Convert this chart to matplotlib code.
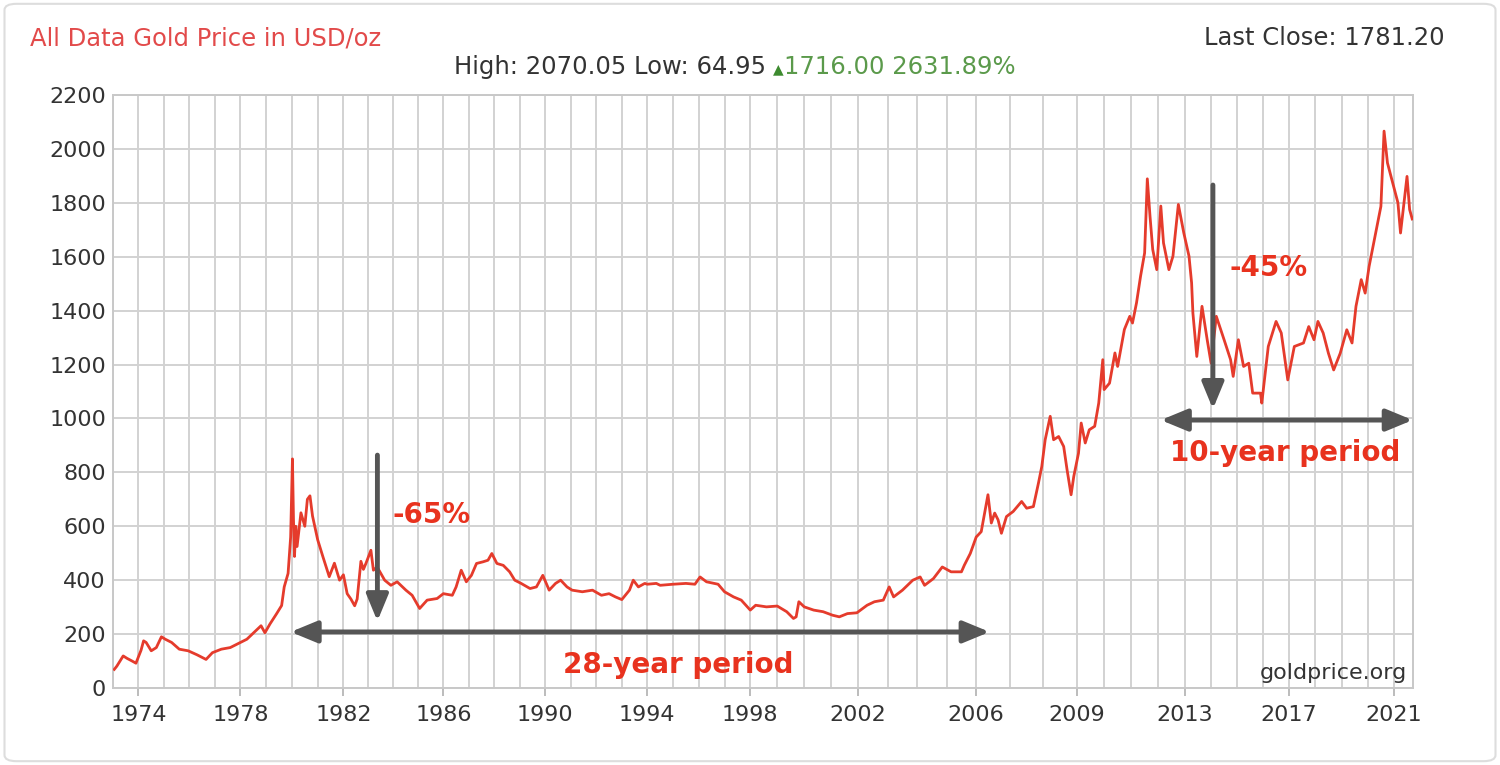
import numpy as np
import matplotlib.pyplot as plt
from matplotlib.patches import FancyBboxPatch

# gold price (USD/oz)
years = [1973.05, 1973.15, 1973.4, 1973.55, 1973.75, 1973.9, 1974.1, 1974.2, 1974.3, 1974.5,
         1974.7, 1974.9, 1975.05, 1975.3, 1975.6, 1975.95, 1976.3, 1976.65, 1976.9, 1977.25,
         1977.6, 1978.0, 1978.25, 1978.6, 1978.8, 1978.95, 1979.15, 1979.4, 1979.6, 1979.7,
         1979.85, 1979.95, 1980.02, 1980.06, 1980.1, 1980.15, 1980.2, 1980.35, 1980.5, 1980.6,
         1980.7, 1980.8, 1981.0, 1981.2, 1981.45, 1981.65, 1981.85, 1982.0, 1982.15, 1982.3,
         1982.45, 1982.55, 1982.7, 1982.8, 1982.9, 1983.1, 1983.2, 1983.35, 1983.65, 1983.9,
         1984.15, 1984.5, 1984.75, 1985.05, 1985.35, 1985.75, 1986.0, 1986.35, 1986.5, 1986.7,
         1986.9, 1987.1, 1987.3, 1987.55, 1987.75, 1987.9, 1988.1, 1988.35, 1988.6, 1988.8,
         1989.05, 1989.4, 1989.65, 1989.9, 1990.15, 1990.4, 1990.6, 1990.85, 1991.05, 1991.45,
         1991.85, 1992.2, 1992.5, 1992.75, 1993.0, 1993.3, 1993.45, 1993.65, 1993.9, 1994.0,
         1994.35, 1994.5, 1995.0, 1995.5, 1995.85, 1996.05, 1996.3, 1996.75, 1997.0, 1997.35,
         1997.65, 1998.0, 1998.2, 1998.6, 1999.0, 1999.35, 1999.6, 1999.7, 1999.8, 2000.0,
         2000.35, 2000.7, 2001.05, 2001.3, 2001.6, 2001.95, 2002.3, 2002.55, 2002.85, 2003.05,
         2003.2, 2003.5, 2003.85, 2004.1, 2004.25, 2004.55, 2004.85, 2005.15, 2005.5, 2005.6,
         2005.8, 2006.0, 2006.15, 2006.35, 2006.45, 2006.55, 2006.65, 2006.75, 2006.9, 2007.1,
         2007.35, 2007.5, 2007.7, 2007.85, 2007.95, 2008.05, 2008.2, 2008.3, 2008.45, 2008.6,
         2008.7, 2008.82, 2008.9, 2009.05, 2009.15, 2009.3, 2009.45, 2009.65, 2009.8, 2009.95,
         2010.0, 2010.2, 2010.4, 2010.5, 2010.75, 2010.95, 2011.05, 2011.2, 2011.35, 2011.5,
         2011.6, 2011.7, 2011.8, 2011.95, 2012.1, 2012.2, 2012.4, 2012.55, 2012.75, 2012.95,
         2013.15, 2013.25, 2013.3, 2013.45, 2013.65, 2013.85, 2014.0, 2014.2, 2014.5, 2014.75,
         2014.85, 2015.05, 2015.25, 2015.45, 2015.6, 2015.9, 2015.95, 2016.2, 2016.5, 2016.7,
         2016.95, 2017.2, 2017.55, 2017.75, 2017.95, 2018.1, 2018.3, 2018.5, 2018.7, 2018.95,
         2019.2, 2019.4, 2019.55, 2019.75, 2019.9, 2020.05, 2020.2, 2020.35, 2020.5, 2020.62,
         2020.75, 2020.95, 2021.15, 2021.25, 2021.4, 2021.5, 2021.6, 2021.7]
price = [69, 81, 119, 110, 100, 92, 140, 175, 169, 138,
         150, 190, 181, 169, 144, 138, 123, 106, 131, 144,
         150, 169, 181, 213, 231, 205, 238, 275, 306, 375,
         425, 560, 850, 625, 488, 600, 525, 650, 600, 700,
         713, 638, 550, 488, 413, 463, 400, 420, 350, 330,
         305, 330, 470, 440, 462, 511, 437, 449, 400, 381,
         394, 363, 344, 295, 326, 332, 350, 344, 375, 437,
         394, 418, 462, 468, 474, 499, 462, 455, 431, 400,
         388, 369, 375, 418, 363, 388, 400, 375, 363, 357,
         363, 344, 350, 338, 328, 363, 400, 375, 388, 385,
         388, 381, 385, 388, 385, 412, 394, 385, 357, 338,
         326, 289, 307, 301, 304, 283, 258, 264, 320, 301,
         289, 283, 270, 264, 276, 279, 307, 320, 326, 375,
         338, 363, 400, 412, 381, 406, 449, 431, 431, 456,
         499, 560, 580, 717, 612, 649, 624, 574, 636, 655,
         692, 667, 673, 760, 822, 921, 1008, 921, 933, 896,
         810, 717, 785, 871, 983, 909, 958, 971, 1057, 1218,
         1107, 1131, 1243, 1193, 1330, 1379, 1354, 1429, 1528, 1614,
         1889, 1750, 1627, 1552, 1788, 1651, 1552, 1602, 1794, 1689,
         1602, 1503, 1391, 1230, 1416, 1292, 1205, 1379, 1292, 1218,
         1156, 1292, 1193, 1205, 1094, 1094, 1057, 1267, 1360, 1317,
         1143, 1267, 1280, 1341, 1292, 1360, 1317, 1242, 1180, 1242,
         1329, 1280, 1416, 1515, 1465, 1564, 1639, 1713, 1787, 2066,
         1948, 1874, 1800, 1688, 1812, 1898, 1775, 1740]

tick_years = [1974, 1978, 1982, 1986, 1990, 1994, 1998, 2002, 2006, 2009, 2013, 2017, 2021]
y_ticks = list(range(0, 2201, 200))

# the source chart does not space its years evenly, so map years through knots
knot_years = [1970, 1974, 1978, 1982, 1986, 1990, 1994, 1998, 2002, 2006, 2009, 2013, 2017, 2021, 2025]
knot_pos = [36, 138, 240, 343, 443, 545, 647, 750, 858, 976, 1077, 1185, 1289, 1394, 1498]


def fwd(x):
    return np.interp(x, knot_years, knot_pos)


def inv(p):
    return np.interp(p, knot_pos, knot_years)


red = '#e8321e'
grey = '#333333'

fig = plt.figure(figsize=(15, 7.65), dpi=100)
ax = fig.add_axes([113 / 1500, 77 / 765, 1300 / 1500, 593 / 765])
ax.set_xscale('function', functions=(fwd, inv))

ax.plot(years, price, color='#e53b2c', lw=2.0, zorder=3)

ax.set_xlim(1973.02, 2021.73)
ax.set_ylim(0, 2200)
ax.set_xticks(tick_years)
ax.set_xticklabels([str(y) for y in tick_years])
ax.set_xticks(range(1973, 2022), minor=True)
ax.set_yticks(y_ticks)
ax.set_axisbelow(True)
ax.grid(which='both', color='#d2d2d2', lw=1.4)
ax.tick_params(axis='x', which='major', length=6, color='#b0b0b0', width=1.2, pad=6,
               labelsize=16, labelcolor=grey)
ax.tick_params(axis='x', which='minor', length=0)
ax.tick_params(axis='y', length=0, pad=5, labelsize=16, labelcolor=grey)
for s in ax.spines.values():
    s.set_color('#c8c8c8')
    s.set_linewidth(1.4)

# header texts
fig.text(30 / 1500, 1 - 38 / 765, 'All Data Gold Price in USD/oz', color='#e24a4a',
         fontsize=17.5, ha='left', va='center')
fig.text(1445 / 1500, 1 - 38 / 765, 'Last Close: 1781.20', color=grey,
         fontsize=17.5, ha='right', va='center')
t1 = fig.text(766 / 1500, 1 - 67 / 765, 'High: 2070.05 Low: 64.95', color=grey,
              fontsize=17.5, ha='right', va='center')
tri = ax.annotate('\u25b2', xy=(1, 0.4), xycoords=t1, xytext=(5, 0), textcoords='offset points',
                  ha='left', va='center', fontsize=10, color='#3d8b2f')
ax.annotate('1716.00 2631.89%', xy=(1, 0.5), xycoords=(tri, t1), ha='left', va='center',
            fontsize=17.5, color='#5b9a4b')
fig.text(1407 / 1500, 1 - 673 / 765, 'goldprice.org', color=grey, fontsize=16,
         ha='right', va='center')

# arrows and labels
head = '-|>,head_length=0.8,head_width=0.33'
both = '<|-|>,head_length=0.8,head_width=0.33'
arrow_kw = dict(color='#555555', lw=3.5, mutation_scale=20, shrinkA=0, shrinkB=0)
ax.annotate('', xy=(1983.36, 248), xytext=(1983.36, 864),
            arrowprops=dict(arrowstyle=head, **arrow_kw))
ax.annotate('', xy=(1979.95, 208), xytext=(2006.4, 208),
            arrowprops=dict(arrowstyle=both, **arrow_kw))
ax.annotate('', xy=(2014.07, 1035), xytext=(2014.07, 1866),
            arrowprops=dict(arrowstyle=head, **arrow_kw))
ax.annotate('', xy=(2012.1, 994), xytext=(2021.72, 994),
            arrowprops=dict(arrowstyle=both, **arrow_kw))

lab_kw = dict(color=red, fontsize=20, fontweight='bold', family=['DejaVu Sans'])
ax.text(1983.95, 642, '-65%', ha='left', va='center', **lab_kw)
ax.text(1995.2, 85, '28-year period', ha='center', va='center', **lab_kw)
ax.text(2014.7, 1558, '-45%', ha='left', va='center', **lab_kw)
ax.text(2016.85, 872, '10-year period', ha='center', va='center', **lab_kw)

# light frame round the whole picture
fig.add_artist(FancyBboxPatch((0.003, 0.005), 0.994, 0.99,
                              boxstyle='round,pad=0,rounding_size=0.008',
                              transform=fig.transFigure, fill=False,
                              ec='#dddddd', lw=1.5))

fig.savefig('out.png', dpi=100)
